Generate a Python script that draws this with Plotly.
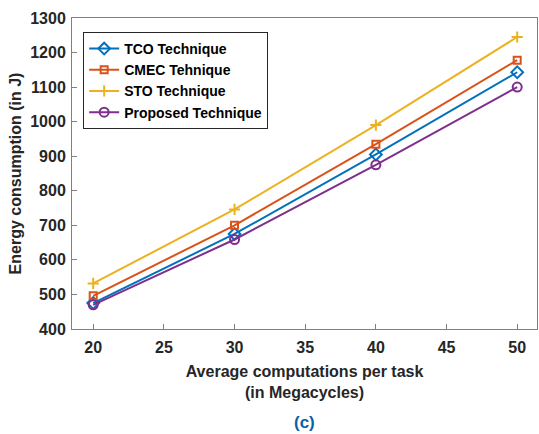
import plotly.graph_objects as go

x_vals = [20, 30, 40, 50]
tco = [475, 675, 905, 1143]
cmec = [496, 700, 935, 1178]
sto = [532, 746, 990, 1245]
proposed = [470, 659, 875, 1100]

series = [
    ("TCO Technique", tco, "#0072BD", "diamond-open", 9),
    ("CMEC Tehnique", cmec, "#D95319", "square-open", 7),
    ("STO Technique", sto, "#EDB120", "cross-thin-open", 8),
    ("Proposed Technique", proposed, "#7E2F8E", "circle-open", 9),
]

fig = go.Figure()
for name, vals, color, sym, size in series:
    fig.add_trace(go.Scatter(
        x=x_vals, y=vals, name=name, mode="lines+markers",
        line=dict(color=color, width=2),
        marker=dict(symbol=sym, size=size, color=color, line=dict(color=color, width=2)),
    ))

axis_common = dict(
    showline=True, linecolor="#808080", linewidth=1, mirror=True,
    ticks="inside", ticklen=5, tickcolor="#808080",
    showgrid=False, zeroline=False, automargin=False,
    tickfont=dict(family="Liberation Sans, Arial", size=16, color="#262626", weight="bold"),
)

fig.update_layout(
    width=539, height=434,
    margin=dict(l=72, r=2, t=18, b=105),
    plot_bgcolor="white", paper_bgcolor="white",
    font=dict(family="Liberation Sans, Arial", color="#262626"),
    xaxis=dict(range=[18.5, 51.4], tickvals=[20, 25, 30, 35, 40, 45, 50],
               ticklabelstandoff=4,
               title=dict(text="<b>Average computations per task<br>(in Megacycles)</b>",
                          font=dict(size=16, color="#262626"), standoff=10),
               **axis_common),
    yaxis=dict(range=[400, 1300], tickvals=list(range(400, 1301, 100)),
               ticklabelstandoff=2,
               title=dict(text="<b>Energy consumption (in J)</b>",
                          font=dict(size=16, color="#262626"), standoff=4),
               **axis_common),
    legend=dict(x=0.024, y=0.955, xanchor="left", yanchor="top",
                bgcolor="white", bordercolor="#262626", borderwidth=1,
                font=dict(size=14, color="black", weight="bold"),
                itemwidth=30, tracegroupgap=0),
    showlegend=True,
)

fig.add_annotation(text="<b>(c)</b>", xref="paper", yref="paper", x=0.5, y=-0.302,
                   xanchor="center", yanchor="middle", showarrow=False,
                   font=dict(size=17, color="#0E5FA8", family="Liberation Sans, Arial"))

fig.write_html("out.html", config={"displayModeBar": False},
               post_script="document.body.style.margin='0';document.body.style.overflow='hidden';")
